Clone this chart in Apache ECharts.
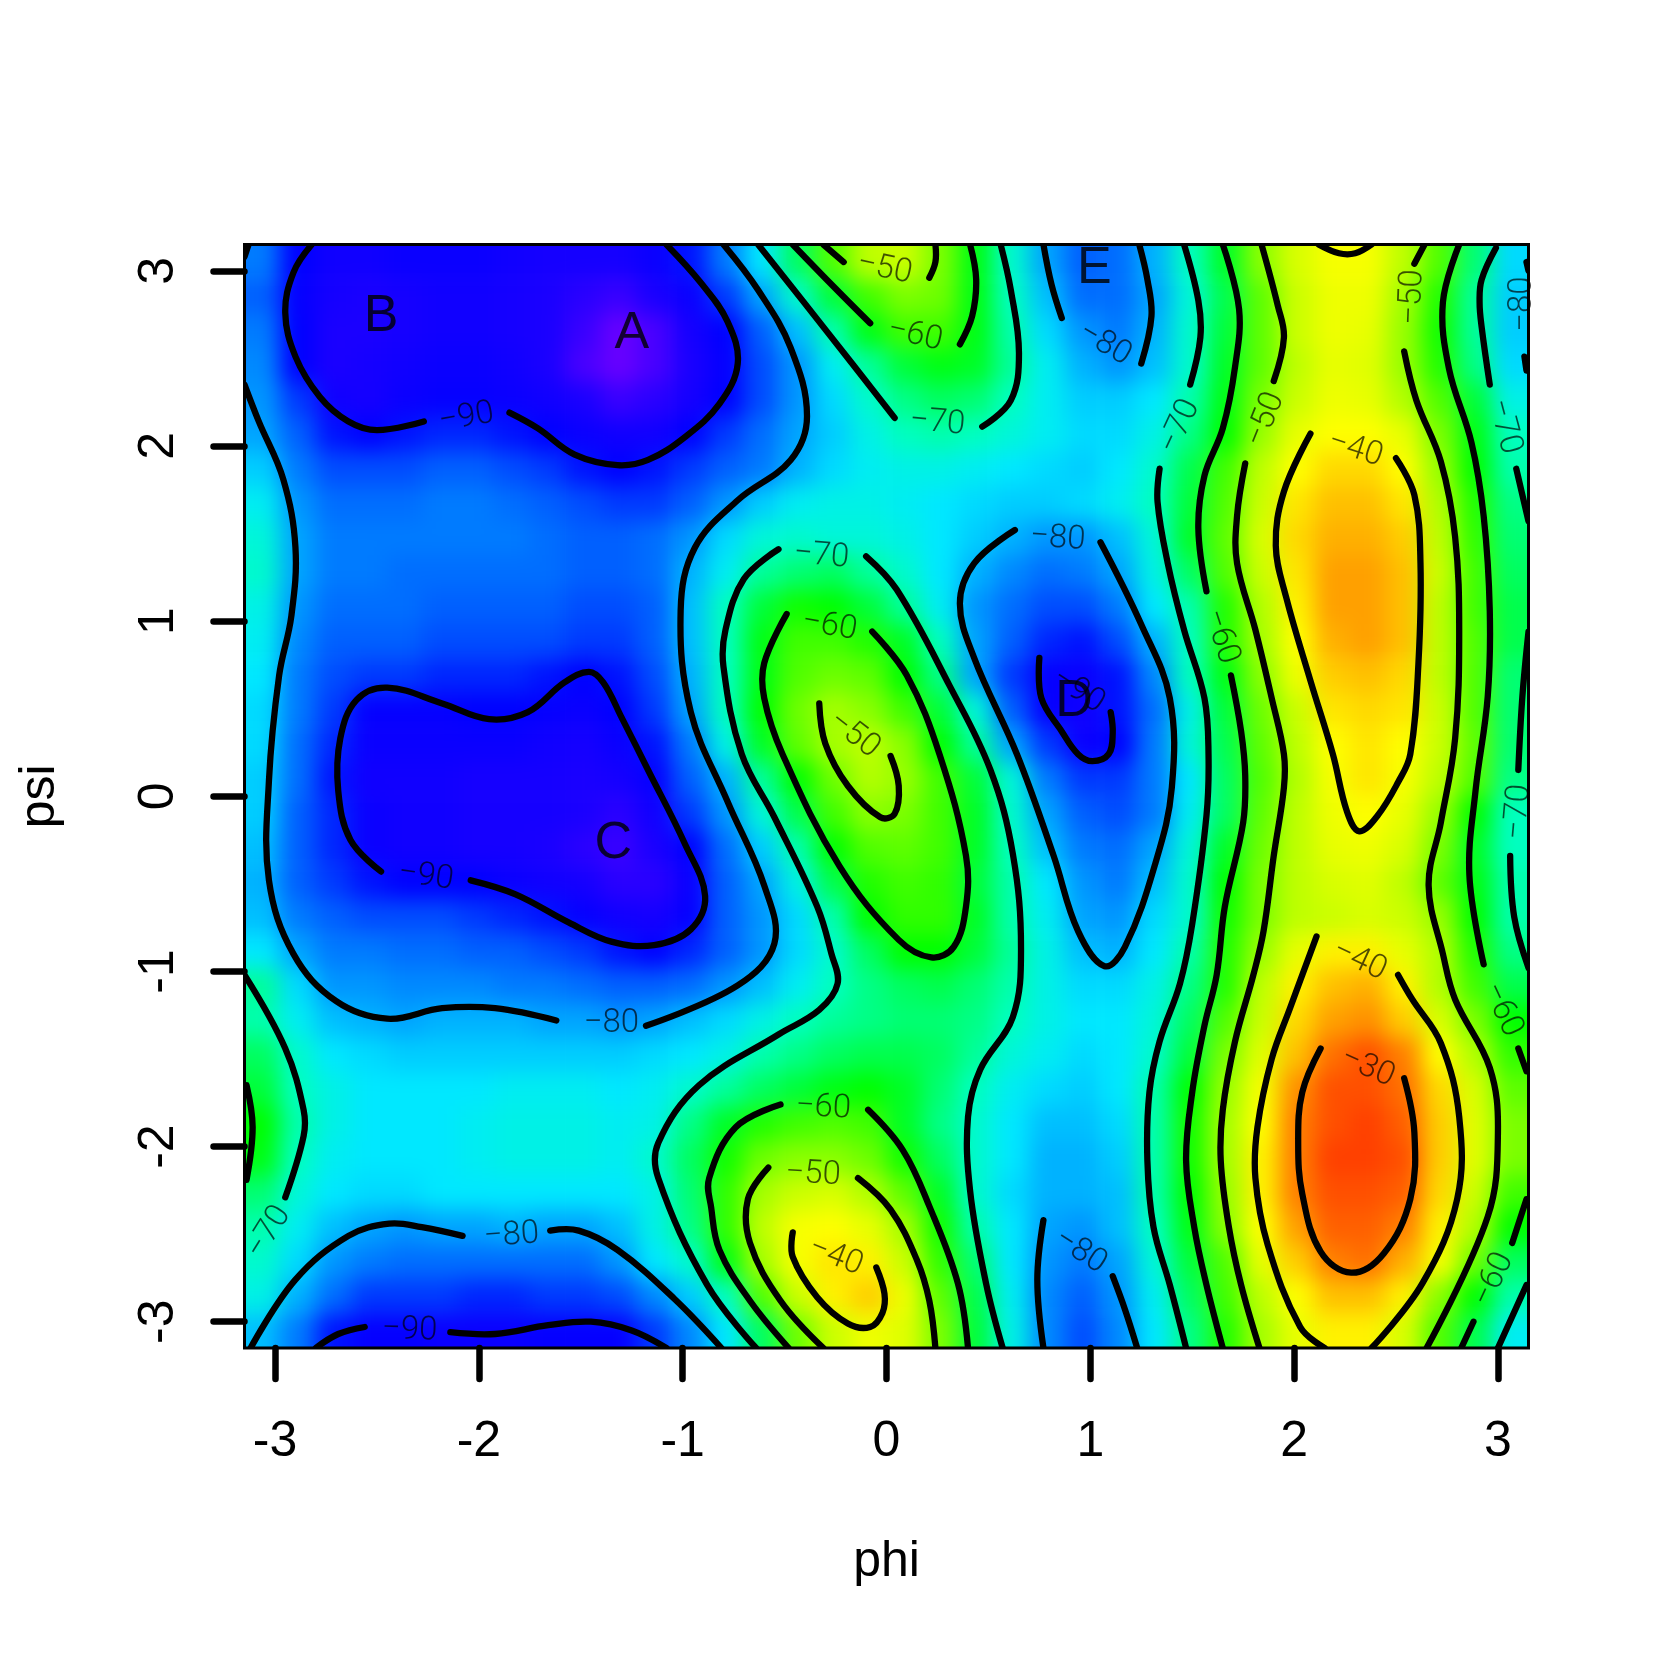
<!DOCTYPE html>
<html><head><meta charset="utf-8"><title>phi psi contour</title>
<script src="https://cdn.jsdelivr.net/npm/echarts@6/dist/echarts.min.js"></script>
<style>html,body{margin:0;padding:0;background:#fff}
#clip{position:absolute;left:244.5px;top:244.5px;width:1284px;height:1103.5px;overflow:hidden}
#heat{position:absolute;filter:blur(11px)}
#main{position:absolute;left:0;top:0;width:1653px;height:1653px}</style></head>
<body><div id="clip"><div id="heat"></div></div><div id="main"></div>
<script>
const phiCells=[-3.06,-2.89,-2.71,-2.54,-2.36,-2.19,-2.01,-1.84,-1.66,-1.49,-1.31,-1.14,-0.96,-0.79,-0.61,-0.44,-0.26,-0.09,0.09,0.26,0.44,0.61,0.79,0.96,1.14,1.31,1.49,1.66,1.84,2.01,2.19,2.36,2.54,2.71,2.89,3.06];
const psiCells=[3.05,2.85,2.66,2.46,2.26,2.07,1.87,1.67,1.48,1.28,1.08,0.89,0.69,0.49,0.30,0.10,-0.10,-0.30,-0.49,-0.69,-0.89,-1.08,-1.28,-1.48,-1.67,-1.87,-2.07,-2.26,-2.46,-2.66,-2.85,-3.05];
const energy=[
[-83,-90,-93,-93,-92,-92,-92,-93,-94,-94,-94,-92,-89,-83,-75,-65,-55,-47,-46,-52,-61,-71,-80,-85,-84,-79,-70,-62,-51,-45,-41,-41,-47,-55,-66,-76],
[-85,-91,-94,-95,-94,-93,-93,-94,-95,-96,-97,-95,-92,-87,-80,-71,-63,-56,-52,-53,-61,-70,-78,-84,-84,-80,-72,-64,-54,-46,-42,-42,-49,-58,-68,-77],
[-83,-90,-95,-95,-94,-93,-93,-94,-95,-97,-100,-98,-94,-90,-85,-78,-69,-61,-56,-56,-61,-69,-76,-81,-83,-79,-71,-63,-54,-46,-42,-43,-50,-59,-68,-77],
[-82,-90,-95,-94,-93,-92,-92,-93,-95,-98,-100,-98,-95,-91,-86,-81,-74,-68,-63,-61,-62,-68,-74,-79,-81,-78,-71,-62,-54,-47,-43,-44,-50,-58,-67,-76],
[-81,-87,-93,-94,-92,-91,-91,-92,-93,-95,-97,-96,-94,-90,-86,-81,-76,-71,-67,-65,-66,-70,-74,-77,-77,-75,-69,-61,-52,-46,-42,-43,-48,-55,-63,-73],
[-80,-85,-89,-90,-89,-88,-88,-89,-90,-92,-93,-93,-90,-87,-84,-80,-77,-73,-70,-69,-70,-72,-74,-76,-76,-73,-67,-60,-50,-43,-40,-40,-43,-52,-61,-70],
[-77,-83,-86,-86,-86,-85,-85,-86,-87,-89,-90,-89,-87,-85,-83,-79,-76,-74,-73,-73,-74,-75,-76,-77,-75,-71,-64,-56,-47,-40,-37,-37,-40,-50,-60,-69],
[-74,-81,-84,-84,-84,-83,-83,-84,-85,-86,-87,-87,-85,-81,-77,-74,-73,-73,-74,-75,-76,-77,-77,-76,-74,-70,-63,-55,-46,-38,-35,-35,-38,-48,-58,-67],
[-72,-80,-83,-83,-83,-83,-83,-83,-84,-85,-85,-84,-81,-76,-72,-71,-72,-72,-73,-75,-77,-79,-81,-81,-78,-72,-62,-54,-45,-37,-34,-34,-36,-47,-57,-66],
[-71,-80,-83,-83,-84,-84,-84,-84,-84,-85,-85,-84,-79,-74,-68,-66,-65,-68,-71,-75,-79,-82,-84,-83,-80,-73,-65,-55,-46,-38,-33,-33,-35,-46,-56,-65],
[-73,-81,-84,-84,-84,-85,-85,-85,-85,-86,-86,-85,-78,-70,-63,-59,-60,-63,-68,-74,-81,-84,-86,-86,-83,-75,-69,-58,-48,-39,-33,-33,-35,-47,-56,-64],
[-74,-82,-85,-85,-85,-86,-86,-86,-86,-87,-87,-85,-78,-70,-61,-56,-56,-58,-62,-70,-80,-85,-88,-89,-86,-79,-70,-58,-49,-40,-34,-33,-35,-47,-55,-64],
[-75,-83,-86,-87,-87,-88,-88,-88,-89,-90,-89,-86,-79,-70,-61,-55,-53,-54,-60,-67,-80,-87,-91,-92,-89,-82,-70,-61,-51,-42,-36,-35,-37,-47,-55,-66],
[-76,-83,-87,-91,-91,-91,-90,-90,-91,-92,-90,-87,-80,-70,-60,-53,-49,-51,-56,-63,-72,-85,-91,-93,-89,-84,-73,-63,-53,-46,-38,-37,-38,-46,-55,-66],
[-76,-84,-88,-92,-92,-92,-92,-92,-93,-94,-92,-89,-83,-73,-62,-54,-49,-47,-51,-60,-68,-80,-87,-92,-90,-83,-72,-64,-54,-47,-40,-38,-40,-46,-54,-66],
[-77,-84,-89,-93,-93,-93,-94,-94,-94,-95,-94,-91,-85,-79,-68,-60,-53,-48,-50,-56,-63,-72,-83,-87,-87,-83,-75,-65,-55,-48,-41,-38,-41,-47,-55,-67],
[-77,-85,-88,-92,-93,-93,-94,-94,-94,-95,-96,-93,-87,-81,-72,-64,-56,-51,-52,-56,-62,-71,-80,-85,-86,-83,-74,-65,-54,-47,-42,-40,-43,-50,-60,-70],
[-78,-85,-88,-92,-93,-93,-94,-94,-95,-96,-97,-95,-90,-84,-77,-69,-60,-55,-54,-56,-62,-70,-78,-83,-84,-80,-72,-62,-53,-47,-43,-42,-45,-52,-62,-70],
[-79,-85,-87,-89,-90,-90,-90,-92,-93,-94,-96,-96,-92,-85,-80,-73,-64,-58,-56,-57,-63,-69,-75,-81,-83,-78,-71,-60,-52,-47,-45,-44,-47,-54,-61,-69],
[-78,-83,-85,-86,-86,-86,-87,-88,-89,-91,-93,-94,-91,-85,-81,-76,-69,-60,-57,-57,-62,-69,-74,-80,-81,-76,-71,-59,-52,-47,-46,-45,-46,-50,-60,-69],
[-75,-80,-83,-83,-84,-84,-85,-85,-86,-87,-89,-90,-88,-85,-81,-76,-71,-65,-60,-60,-63,-68,-73,-78,-79,-75,-69,-58,-50,-43,-39,-39,-43,-48,-58,-67],
[-68,-76,-81,-81,-82,-82,-82,-83,-83,-84,-85,-85,-84,-81,-78,-74,-70,-67,-65,-64,-66,-69,-73,-76,-76,-73,-67,-58,-47,-39,-35,-34,-39,-48,-56,-64],
[-69,-74,-78,-79,-80,-79,-79,-79,-80,-80,-81,-80,-78,-76,-73,-70,-68,-67,-66,-66,-67,-70,-73,-75,-75,-72,-65,-55,-46,-37,-33,-32,-36,-45,-52,-60],
[-65,-71,-75,-76,-77,-77,-77,-77,-77,-77,-77,-76,-75,-73,-69,-67,-65,-64,-64,-65,-68,-72,-74,-76,-75,-71,-63,-52,-44,-35,-30,-28,-31,-40,-48,-57],
[-63,-70,-73,-75,-75,-75,-75,-74,-74,-74,-75,-74,-71,-68,-65,-63,-61,-60,-62,-66,-70,-74,-76,-77,-75,-69,-60,-50,-41,-32,-28,-28,-30,-37,-45,-54],
[-60,-69,-73,-75,-75,-75,-74,-73,-73,-73,-74,-73,-67,-62,-58,-56,-55,-56,-62,-67,-71,-75,-78,-78,-76,-69,-59,-49,-40,-31,-28,-27,-29,-36,-44,-52],
[-61,-70,-74,-75,-75,-75,-74,-73,-73,-73,-74,-71,-65,-59,-53,-51,-51,-53,-59,-65,-71,-75,-79,-79,-77,-69,-59,-49,-39,-31,-27,-27,-28,-36,-44,-52],
[-66,-72,-75,-76,-76,-75,-75,-75,-75,-75,-75,-73,-66,-57,-49,-46,-45,-48,-54,-62,-71,-76,-79,-79,-78,-69,-60,-50,-39,-31,-28,-28,-29,-37,-46,-56],
[-69,-74,-78,-80,-81,-80,-80,-79,-80,-80,-78,-73,-67,-57,-47,-41,-40,-43,-49,-59,-69,-75,-80,-81,-78,-70,-61,-51,-40,-33,-29,-29,-31,-39,-48,-60],
[-71,-76,-81,-83,-84,-84,-84,-84,-84,-84,-81,-75,-71,-61,-49,-41,-38,-39,-46,-57,-66,-75,-81,-83,-80,-72,-63,-55,-43,-36,-31,-30,-34,-41,-53,-65],
[-73,-79,-84,-87,-87,-87,-88,-88,-87,-87,-86,-82,-77,-70,-55,-46,-39,-36,-42,-54,-64,-74,-82,-85,-81,-74,-65,-56,-47,-40,-35,-35,-39,-51,-60,-69],
[-78,-83,-89,-91,-91,-92,-92,-92,-91,-91,-91,-87,-82,-75,-65,-53,-46,-42,-44,-52,-63,-73,-82,-86,-82,-75,-67,-58,-49,-43,-39,-39,-45,-55,-64,-74]
];
const colorStops=['#6800ff','#1a00ff','#0000ff','#0060ff','#00a4ff','#00e8ff','#00ffc0','#00ff60','#00ff00','#50ff00','#98ff00','#d8ff00','#ffff00','#ffc000','#ff7000','#ff2000'];
const contours90=[
[[-2.82,3.15],[-2.91,2.99],[-2.95,2.76],[-2.90,2.51],[-2.78,2.28],[-2.64,2.14],[-2.50,2.09],[-2.27,2.14]],
[[-1.85,2.19],[-1.71,2.10],[-1.53,1.95],[-1.32,1.89],[-1.17,1.92],[-0.99,2.05],[-0.82,2.24],[-0.73,2.47],[-0.78,2.71],[-0.91,2.93],[-1.08,3.15]],
[[-2.04,-0.48],[-1.82,-0.56],[-1.56,-0.72],[-1.35,-0.83],[-1.14,-0.85],[-0.96,-0.76],[-0.89,-0.57],[-0.99,-0.27],[-1.17,0.15],[-1.30,0.45],[-1.39,0.65],[-1.46,0.71],[-1.58,0.65],[-1.76,0.48],[-1.95,0.44],[-2.18,0.53],[-2.45,0.62],[-2.60,0.55],[-2.68,0.33],[-2.69,0.03],[-2.63,-0.25],[-2.48,-0.43]],
[[0.75,0.79],[0.76,0.56],[0.86,0.37],[0.94,0.24],[1.01,0.20],[1.09,0.24],[1.11,0.36],[1.10,0.48]],
[[-2.80,-3.15],[-2.69,-3.07],[-2.56,-3.03]],
[[-2.14,-3.06],[-1.92,-3.07],[-1.66,-3.02],[-1.45,-3.00],[-1.25,-3.05],[-1.08,-3.15]]
];
const contours80=[
[[-0.80,3.15],[-0.63,2.89],[-0.47,2.56],[-0.39,2.17],[-0.47,1.92],[-0.73,1.69],[-0.94,1.42],[-1.01,1.06],[-0.96,0.48],[-0.78,-0.03],[-0.60,-0.51],[-0.55,-0.84],[-0.73,-1.08],[-1.18,-1.31]],
[[-1.62,-1.28],[-1.92,-1.21],[-2.18,-1.21],[-2.45,-1.27],[-2.70,-1.17],[-2.91,-0.90],[-3.03,-0.48],[-3.03,0.09],[-2.98,0.69],[-2.92,1.03],[-2.90,1.42],[-2.96,1.81],[-3.08,2.14],[-3.15,2.35]],
[[0.77,3.15],[0.81,2.92],[0.86,2.73]],
[[1.25,2.47],[1.30,2.74],[1.28,2.95],[1.24,3.15]],
[[0.63,1.52],[0.43,1.33],[0.36,1.10],[0.43,0.79],[0.64,0.24],[0.82,-0.34],[0.94,-0.77],[1.07,-0.97],[1.17,-0.86],[1.32,-0.38],[1.40,0.05],[1.39,0.56],[1.25,0.98],[1.05,1.45]],
[[-3.12,-3.15],[-2.90,-2.76],[-2.64,-2.51],[-2.44,-2.44],[-2.28,-2.46],[-2.08,-2.51]],
[[-1.65,-2.48],[-1.51,-2.48],[-1.32,-2.59],[-1.04,-2.87],[-0.81,-3.15]],
[[0.77,-2.42],[0.74,-2.76],[0.77,-3.15]],
[[1.11,-2.74],[1.17,-2.93],[1.23,-3.15]],
[[3.14,3.05],[3.15,3.00]],
[[3.13,2.51],[3.14,2.43]],
[[-3.15,3.08],[-3.13,3.15]]
];
const contours70=[
[[-0.63,3.15],[-0.29,2.65],[0.04,2.16]],
[[0.47,2.11],[0.61,2.26],[0.65,2.53],[0.61,2.89],[0.56,3.15]],
[[-0.64,-3.15],[-0.88,-2.79],[-1.12,-2.18],[-1.12,-1.98],[-0.92,-1.65],[-0.53,-1.36],[-0.33,-1.22],[-0.24,-1.07],[-0.27,-0.90],[-0.34,-0.63],[-0.55,-0.12],[-0.71,0.24],[-0.80,0.74],[-0.79,0.95],[-0.70,1.24],[-0.53,1.41]],
[[-0.10,1.37],[0.05,1.18],[0.31,0.63],[0.51,0.15],[0.62,-0.33],[0.66,-0.87],[0.62,-1.26],[0.46,-1.56],[0.40,-1.83],[0.41,-2.25],[0.49,-2.79],[0.57,-3.15]],
[[1.46,3.15],[1.53,2.83],[1.54,2.62],[1.49,2.35]],
[[1.34,1.87],[1.33,1.68],[1.38,1.33],[1.46,0.95],[1.56,0.56],[1.58,0.24],[1.57,-0.11],[1.50,-0.73],[1.44,-1.07],[1.34,-1.40],[1.29,-1.69],[1.28,-2.08],[1.31,-2.46],[1.39,-2.79],[1.47,-3.15]],
[[2.99,3.13],[2.92,2.95],[2.91,2.82],[2.92,2.68],[2.96,2.35]],
[[3.09,1.87],[3.15,1.57]],
[[3.15,0.94],[3.12,0.57],[3.10,0.15]],
[[3.06,-0.34],[3.08,-0.69],[3.15,-0.98]],
[[3.14,-2.79],[3.00,-3.15]],
[[-3.15,-1.02],[-2.95,-1.44],[-2.86,-1.79],[-2.86,-1.94],[-2.95,-2.29]]
];
const contours60=[
[[-0.46,3.15],[-0.26,2.91],[-0.08,2.70]],
[[0.36,2.58],[0.42,2.74],[0.44,2.95],[0.41,3.15]],
[[-0.49,1.04],[-0.60,0.76],[-0.60,0.56],[-0.51,0.24],[-0.23,-0.40],[0.06,-0.82],[0.22,-0.92],[0.33,-0.86],[0.39,-0.63],[0.39,-0.34],[0.26,0.24],[0.10,0.69],[-0.07,0.94]],
[[-0.52,-1.76],[-0.74,-1.89],[-0.87,-2.18],[-0.86,-2.35],[-0.82,-2.59],[-0.67,-2.88],[-0.48,-3.15]],
[[-0.09,-1.79],[0.08,-2.02],[0.21,-2.34],[0.35,-2.78],[0.40,-3.15]],
[[1.65,3.15],[1.73,2.78],[1.71,2.45],[1.65,2.10],[1.56,1.83],[1.53,1.53],[1.57,1.17]],
[[1.69,0.69],[1.74,0.37],[1.76,0.12],[1.75,-0.15],[1.66,-0.63],[1.62,-1.02],[1.56,-1.31],[1.50,-1.69],[1.47,-2.08],[1.51,-2.46],[1.57,-2.79],[1.65,-3.15]],
[[2.81,3.15],[2.73,2.82],[2.76,2.44],[2.87,2.02],[2.93,1.60],[2.96,1.06],[2.95,0.57],[2.89,0.03],[2.86,-0.45],[2.93,-0.96]],
[[3.10,-1.44],[3.14,-1.57]],
[[3.14,-2.30],[3.07,-2.55]],
[[2.88,-3.00],[2.82,-3.15]],
[[-3.14,-1.65],[-3.11,-1.89],[-3.14,-2.19]]
];
const contours50=[
[[-0.31,3.15],[-0.21,3.05]],
[[0.21,2.96],[0.24,3.05],[0.24,3.15]],
[[0.02,0.23],[0.06,0.06],[0.04,-0.10],[-0.03,-0.12],[-0.19,0.06],[-0.30,0.30],[-0.33,0.53]],
[[-0.58,-2.12],[-0.68,-2.30],[-0.67,-2.55],[-0.52,-2.88],[-0.31,-3.15]],
[[-0.14,-2.18],[0.02,-2.36],[0.15,-2.65],[0.21,-2.88],[0.24,-3.15]],
[[1.84,3.15],[1.92,2.80],[1.95,2.62],[1.90,2.37]],
[[1.76,1.90],[1.72,1.60],[1.72,1.33],[1.81,0.95],[1.89,0.56],[1.95,0.24],[1.95,0.05],[1.90,-0.34],[1.85,-0.77],[1.80,-1.02],[1.71,-1.40],[1.65,-1.79],[1.64,-2.08],[1.68,-2.46],[1.74,-2.79],[1.83,-3.15]],
[[2.64,3.15],[2.59,3.04]],
[[2.54,2.54],[2.60,2.26],[2.72,1.91],[2.79,1.48],[2.81,0.94],[2.79,0.33],[2.72,-0.15],[2.66,-0.51],[2.73,-0.90],[2.79,-1.16],[2.96,-1.55],[3.00,-1.92],[2.95,-2.40],[2.65,-3.15]]
];
const contours40=[
[[2.12,3.15],[2.22,3.10],[2.30,3.10],[2.38,3.15]],
[[2.08,2.07],[1.95,1.74],[1.91,1.43],[1.96,1.14],[2.08,0.66],[2.19,0.24],[2.26,-0.09],[2.32,-0.20],[2.41,-0.11],[2.51,0.08],[2.57,0.24],[2.61,0.76],[2.62,1.33],[2.59,1.72],[2.50,1.93]],
[[2.11,-0.80],[1.98,-1.21],[1.89,-1.50],[1.82,-1.89],[1.81,-2.18],[1.87,-2.56],[2.03,-3.03],[2.15,-3.15]],
[[2.51,-1.02],[2.58,-1.16],[2.72,-1.41],[2.81,-1.83],[2.80,-2.30],[2.63,-2.78],[2.38,-3.15]],
[[-0.46,-2.49],[-0.46,-2.63],[-0.34,-2.86],[-0.19,-3.01],[-0.08,-3.03],[-0.02,-2.95],[-0.01,-2.84],[-0.05,-2.69]]
];
const contours30=[
[[2.13,-1.44],[2.04,-1.69],[2.02,-1.98],[2.04,-2.27],[2.13,-2.60],[2.28,-2.72],[2.44,-2.61],[2.57,-2.30],[2.59,-1.92],[2.54,-1.61]]
];
const levelLabels=[
['−90',-2.06,2.16,10],['−80',-1.35,-1.30,0],['−80',-1.84,-2.51,4],['−90',-2.34,-3.05,-2],['−90',-2.26,-0.46,-8],
['−70',-3.03,-2.49,58],['−70',-0.32,1.37,-5],['−60',-0.28,0.97,-10],['−50',-0.16,0.35,-38],['−60',-0.31,-1.78,-3],
['−50',-0.36,-2.16,-3],['−40',-0.25,-2.63,-22],['−50',-0.01,3.01,-12],['−60',0.14,2.63,-13],['−70',0.25,2.13,-5],
['−80',0.84,1.47,-4],['−80',1.07,2.58,-30],['−70',1.44,2.11,65],['−50',1.86,2.15,68],['−40',2.30,1.98,-18],
['−50',2.58,2.85,88],['−60',1.64,0.91,-72],['−90',0.94,0.60,-33],['−80',0.95,-2.60,-33],['−40',2.32,-0.94,-25],
['−30',2.36,-1.55,-24],['−70',3.03,2.11,-75],['−70',3.10,-0.09,85],['−60',3.02,-1.22,-65],['−60',2.98,-2.76,65],['−80',3.12,2.81,90]
];
const basinLetters=[['A',-1.25,2.64],['B',-2.48,2.74],['C',-1.34,-0.27],['D',0.92,0.54],['E',1.02,3.01]];
const tickValues=[-3,-2,-1,0,1,2,3];

const PAD=2, W=1284, H=1103.5, NX=phiCells.length, NY=psiCells.length;
const cw=W/NX, ch=H/NY;
const heatEl=document.getElementById('heat');
heatEl.style.left=(-PAD*cw)+'px';heatEl.style.top=(-PAD*ch)+'px';
heatEl.style.width=(W+2*PAD*cw)+'px';heatEl.style.height=(H+2*PAD*ch)+'px';
const cells=[];
for(let j=-PAD;j<NY+PAD;j++){for(let i=-PAD;i<NX+PAD;i++){
  const r=Math.min(NY-1,Math.max(0,j)),c=Math.min(NX-1,Math.max(0,i));
  cells.push([i+PAD,NY+PAD-1-j,energy[r][c]]);
}}
const heat=echarts.init(heatEl,null,{renderer:'canvas'});
heat.setOption({animation:false,
  grid:{left:0,right:0,top:0,bottom:0},
  xAxis:{type:'category',show:false,data:Array.from({length:NX+2*PAD},(_,i)=>'x'+i)},
  yAxis:{type:'category',show:false,data:Array.from({length:NY+2*PAD},(_,i)=>'y'+i)},
  visualMap:{show:false,min:-100,max:-25,dimension:2,inRange:{color:colorStops}},
  series:[{type:'heatmap',data:cells,progressive:0,itemStyle:{borderWidth:0}}]});

const series=[];
[contours90,contours80,contours70,contours60,contours50,contours40,contours30].forEach(group=>group.forEach(pts=>{
  series.push({type:'custom',coordinateSystem:'cartesian2d',data:pts,encode:{x:0,y:1},clip:true,silent:true,z:3,
    renderItem:(params,api)=>{
      if(params.dataIndex!==0) return null;
      return {type:'polyline',
        shape:{points:pts.map(p=>api.coord(p)),smooth:0.38,smoothConstraint:false},
        style:{fill:null,stroke:'#000',lineWidth:6.3,lineCap:'round',lineJoin:'round'}};
    }});
}));
series.push({type:'scatter',symbolSize:0,silent:true,z:4,clip:false,
  data:levelLabels.map(l=>({value:[l[1],l[2]],label:{show:true,position:'inside',formatter:l[0],rotate:l[3],
    fontFamily:'Roboto',fontWeight:300,fontSize:33,color:'rgba(0,0,0,0.85)'}}))});
series.push({type:'scatter',symbolSize:0,silent:true,z:5,clip:false,
  data:basinLetters.map(l=>({value:[l[1],l[2]],label:{show:true,position:'inside',formatter:l[0],
    fontFamily:'Liberation Sans',fontSize:52,color:'#000'}}))});

const axisText={fontFamily:'Liberation Sans',fontSize:50,color:'#000'};
const main=echarts.init(document.getElementById('main'),null,{renderer:'canvas'});
main.setOption({animation:false,backgroundColor:'transparent',
  grid:{left:244.5,top:244.5,width:1284,height:1103.5,show:true,borderColor:'#000',borderWidth:3,backgroundColor:'transparent'},
  xAxis:{type:'value',min:-3.15,max:3.15,name:'phi',nameLocation:'center',nameGap:189,nameTextStyle:axisText,
    splitLine:{show:false},axisLine:{show:false,onZero:false},
    axisTick:{show:true,customValues:tickValues,length:31,lineStyle:{color:'#000',width:6.5,cap:'round'}},
    axisLabel:{customValues:tickValues,margin:69,formatter:v=>String(v),...axisText}},
  yAxis:{type:'value',min:-3.15,max:3.15,name:'psi',nameLocation:'center',nameGap:179,nameRotate:90,nameTextStyle:axisText,
    splitLine:{show:false},axisLine:{show:false,onZero:false},
    axisTick:{show:true,customValues:tickValues,length:31,lineStyle:{color:'#000',width:6.5,cap:'round'}},
    axisLabel:{customValues:tickValues,margin:60,rotate:90,formatter:v=>String(v),...axisText}},
  series});
</script></body></html>
